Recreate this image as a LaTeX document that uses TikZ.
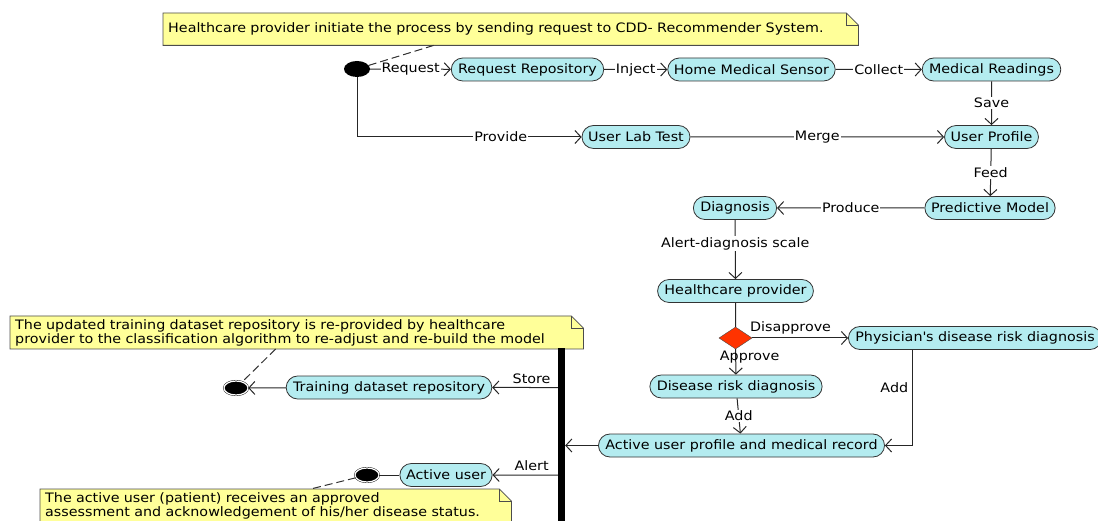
\documentclass[tikz,border=0pt]{standalone}
\usepackage{fontspec}
\setmainfont{DejaVu Sans}[FakeStretch=1.1]
\usetikzlibrary{arrows.meta,shapes.geometric,shapes.misc,backgrounds}
\definecolor{actfill}{RGB}{180,236,240}
\definecolor{notefill}{RGB}{255,255,153}
\definecolor{decfill}{RGB}{255,51,0}
\tikzset{
	act/.style={rounded rectangle, draw=black!80, fill=actfill, line width=0.8pt, minimum height=23pt, inner xsep=5pt, inner ysep=2pt},
	flow/.style={draw=black!85, line width=1pt, -{Straight Barb[length=6pt,width=13pt]}},
	link/.style={draw=black!85, line width=1pt},
	lbl/.style={fill=white, inner sep=1pt},
	notebox/.style={align=left, inner xsep=5pt, inner ysep=3pt, anchor=north west},
	notelink/.style={draw=black!80, dash pattern=on 8pt off 4pt, line width=1pt},
	startdot/.style={ellipse, fill=black, minimum width=26pt, minimum height=16pt, inner sep=0pt},
	enddot/.style={ellipse, draw=black, fill=black, double=white, double distance=1.2pt, minimum width=24pt, minimum height=14pt, inner sep=0pt},
	decide/.style={diamond, draw=black!70, fill=decfill, minimum width=33pt, minimum height=22pt, inner sep=0pt}
}
\newcommand{\notefold}[1]{%
	\begin{scope}[on background layer]
		\filldraw[fill=notefill, draw=black!70, line width=0.8pt] (#1.north west) -- ([xshift=-12pt]#1.north east) -- ([yshift=-12pt]#1.north east) -- (#1.south east) -- (#1.south west) -- cycle;
		\draw[black!70, line width=0.8pt] ([xshift=-12pt]#1.north east) -- ([xshift=-12pt,yshift=-12pt]#1.north east) -- ([yshift=-12pt]#1.north east);
	\end{scope}}
\begin{document}
\begin{tikzpicture}[x=1pt, y=-1pt, font=\fontsize{13}{14}\selectfont]
		\useasboundingbox (0,0) rectangle (1098,521);
		\node (N1) at (163,13) [notebox, text width=685pt, minimum height=32pt] {Healthcare provider initiate the process by sending request to CDD- Recommender System.};
		\node (N2) at (10,316) [notebox, text width=563pt, minimum height=32pt] {The updated training dataset repository is re-provided by healthcare\\provider to the classification algorithm to re-adjust and re-build the model};
		\node (N3) at (40,489) [notebox, text width=461pt, minimum height=32pt] {The active user (patient) receives an approved\\assessment and acknowledgement of his/her disease status.};
		\notefold{N1}
		\notefold{N2}
		\notefold{N3}
		
		\node (START) at (357,69) [startdot] {};
		\node (RR) at (527.5,69.5) [act] {Request Repository};
		\node (HMS) at (751.5,69.5) [act] {Home Medical Sensor};
		\node (MR) at (991.5,69.5) [act] {Medical Readings};
		\node (ULT) at (636,137) [act] {User Lab Test};
		\node (UP) at (991.5,137) [act] {User Profile};
		\node (PM) at (990,208) [act] {Predictive Model};
		\node (DG) at (735,208) [act] {Diagnosis};
		\node (HP) at (735.5,291) [act] {Healthcare provider};
		\node (DEC) at (735.5,338) [decide] {};
		\node (PH) at (975,338) [act] {Physician\textquotesingle s disease risk diagnosis};
		\node (DR) at (736,386.5) [act] {Disease risk diagnosis};
		\node (AP) at (741.5,445.5) [act] {Active user profile and medical record};
		\node (BAR) at (561.5,434.5) [fill=black, minimum width=7pt, minimum height=173pt, inner sep=0pt] {};
		\node (TD) at (389,387.5) [act] {Training dataset repository};
		\node (END1) at (236,388) [enddot] {};
		\node (AU) at (446,475) [act] {Active user};
		\node (END2) at (367,475) [enddot] {};
		
		\draw [flow] (START) -- (RR) node[midway, lbl] {Request};
		\draw [flow] (RR) -- (HMS) node[midway, lbl] {Inject};
		\draw [flow] (HMS) -- (MR) node[midway, lbl] {Collect};
		\draw [flow] (MR) -- (UP) node[midway, lbl] {Save};
		\draw [flow] (START) |- (ULT) node[pos=0.82, lbl] {Provide};
		\draw [flow] (ULT) -- (UP) node[midway, lbl] {Merge};
		\draw [flow] (UP) -- (PM) node[midway, lbl] {Feed};
		\draw [flow] (PM) -- (DG) node[midway, lbl] {Produce};
		\draw [flow] (DG) -- (HP) node[pos=0.4, lbl] {Alert-diagnosis scale};
		\draw [link] (HP) -- (DEC);
		\draw [flow] (DEC) -- (PH) node[pos=0.4, above] {Disapprove};
		\draw [flow] (DEC) -- (DR) node[pos=0.3, xshift=14pt] {Approve};
		\draw [flow] (DR) -- (AP) node[midway, lbl] {Add};
		\draw [flow] ([xshift=-63pt]PH.south) |- (AP) node[pos=0.2, left] {Add};
		\draw [flow] (AP) -- (AP -| BAR.east);
		\draw [flow] (BAR.west |- TD) -- (TD) node[pos=0.4, above] {Store};
		\draw [flow] (TD) -- (END1);
		\draw [flow] (BAR.west |- AU) -- (AU) node[pos=0.4, above] {Alert};
		\draw [link] (AU) -- (END2);
		\draw [notelink] ([xshift=-77pt]N1.south) -- (START);
		\draw [notelink] ([xshift=-21pt]N2.south) -- (END1);
		\draw [notelink] (END2) -- ([xshift=35pt]N3.north);
\end{tikzpicture}
\end{document}
